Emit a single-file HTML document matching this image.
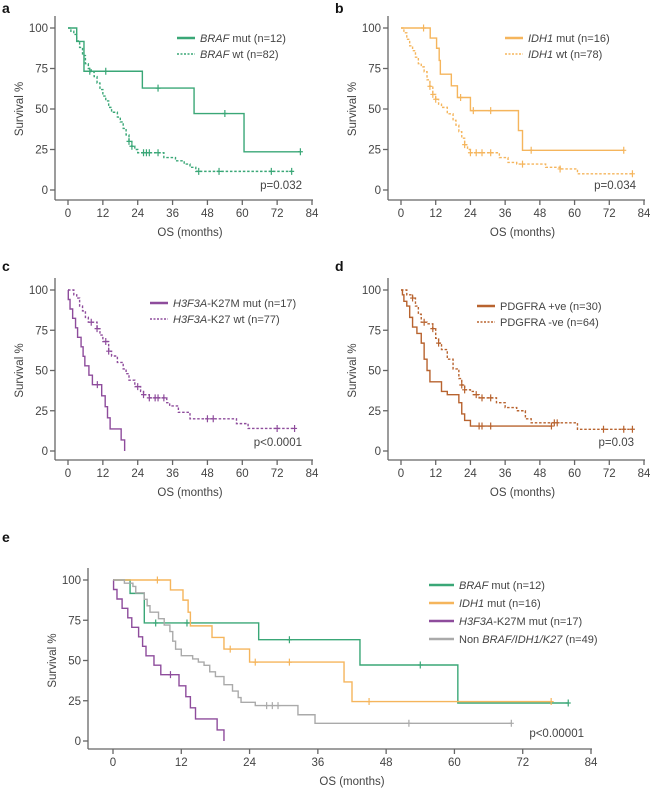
<!DOCTYPE html>
<html><head><meta charset="utf-8"><style>
body{margin:0;background:#fff}
svg{display:block;font-family:"Liberation Sans",Arial,sans-serif}
</style></head><body>
<svg id="fig" width="650" height="792" viewBox="0 0 650 792"></svg>
<script>
const xTicks=[0,12,24,36,48,60,72,84];
const yTicks=[0,25,50,75,100];
// Panel a
const aMutSteps=[[3,91.7],[5.5,73.3],[25.6,62.9],[43.4,47.2],[60.6,23.6]];
const aMutCens=[7.5,13,31,54,80];
const aWtSteps=[[1,98],[2,96],[3,92],[4,88],[5,83],[6,78],[7,75],[8,73],[9,70],[10,66],[11,62],[12,58],[13,55],[14,51],[15,48],[17,45],[18,42],[19,38],[20,34],[21,30],[22,27],[23,25],[24,23],[33,20],[37,18],[40,16],[42,14],[44,11.5]];
const aWtCens=[21,22,26,27,28,31,45,52,70,77];
// Panel b
const bMutSteps=[[10.1,93.8],[12.3,87.5],[13.2,80],[13.6,71.5],[17.4,64.3],[19.5,57.1],[24,49],[40.6,36.7],[42,24.5]];
const bMutCens=[7.8,20.6,25,31,45,77];
const bWtSteps=[[1,97],[2,93],[3,89],[4,86],[5,82],[6,78],[7,76],[8,73],[9,68],[10,64],[11,59],[12,56],[13,53],[14,51],[16,47],[18,43],[19,40],[20,36],[21,32],[22,28],[23,25],[24,23],[34,20],[37,17],[40,16],[50,14],[55,13],[61,10]];
const bWtCens=[10,11,12,22,24,26,28,31,42,55,80];
// Panel c
const cMutSteps=[[0.1,94.1],[0.7,88.2],[1.6,82.4],[2.6,76.5],[3.3,70.6],[4.5,64.7],[5.2,58.8],[5.8,52.9],[7.2,47.1],[8.4,41.2],[11.6,34.3],[12.8,27.5],[13.6,20.6],[14.5,13.7],[18.3,6.9],[19.5,0]];
const cMutCens=[10.1];
const cWtSteps=[[2,97],[3,95],[4,90],[5,87],[6,83],[7,80],[10,76],[11,72],[12,68],[14,62],[15,59],[17,55],[19,51],[20,48],[21,44],[23,40],[25,37],[26,35],[28,33],[34,30],[35,28],[38,24],[42,20],[58,17],[62,14]];
const cWtCens=[8,10,13,14,24,26,28,30,31,33,48,50,72,78];
// Panel d
const dPosSteps=[[0.5,97],[1,93],[2,90],[3,83],[4,77],[5.5,73],[7,67],[8,57],[9,50],[10,43],[14,37],[16,35],[20,30],[21,23],[22,19],[24,15.5]];
const dPosCens=[27,28,31,52];
const dNegSteps=[[2,97],[4,95],[5,90],[6,85],[7,80],[9,79],[11,76],[12,70],[13,67],[14,63],[16,57],[18,51],[20,45],[21,41],[22,38],[24,37],[25,35],[27,33],[33,30],[36,27],[40,25],[43,20],[45,17.5],[61,13.5]];
const dNegCens=[4,8,11,13,21,22,26,28,31,53,54,70,77,80];
// Panel e
const eOtherSteps=[[2,98],[3.5,96],[4,92],[5.5,88],[6,84],[6.5,80],[8,76],[9,72],[10,68],[10.5,62],[11,57],[12,53],[14,51],[15,49],[16,47],[17,43],[18,40],[19.5,35],[21,31],[22,27],[22.5,24],[25,22],[32.5,16.3],[35.5,11]];
const eOtherCens=[27,28,29,52,70];

const NS="http://www.w3.org/2000/svg";
const svg=document.getElementById('fig');
function mk(tag,attrs,parent){const e=document.createElementNS(NS,tag);for(const k in attrs)e.setAttribute(k,attrs[k]);(parent||svg).appendChild(e);return e;}
function survAt(steps,t){let v=100;for(const s of steps){if(s[0]<=t)v=s[1];}return v;}

function panel(P){
  const g=mk('g',{});
  
  
  const sx=m=>P.x0+(P.x1-P.x0)*m/84;
  const sy=v=>P.yBot-(P.yBot-P.yTop)*v/100;
  const lab=mk('text',{x:P.lx,y:P.ly,'font-size':14,'font-weight':'bold',fill:'#111'},g);lab.textContent=P.letter;
  
  
  const ax=mk('g',{stroke:'#666','stroke-width':1.3},g);
  
  
  mk('line',{x1:P.ax,y1:P.yTop-12,x2:P.ax,y2:P.axisY},ax);
  mk('line',{x1:P.ax,y1:P.axisY,x2:P.x1+1,y2:P.axisY},ax);
  for(const t of xTicks){mk('line',{x1:sx(t),y1:P.axisY,x2:sx(t),y2:P.axisY+5},ax);
    const tx=mk('text',{x:sx(t),y:P.axisY+17,'font-size':11.5,'text-anchor':'middle',fill:'#444'},g);tx.textContent=t;
    
    }
  for(const t of yTicks){mk('line',{x1:P.ax-5,y1:sy(t),x2:P.ax,y2:sy(t)},ax);
    const ty=mk('text',{x:P.ax-7,y:sy(t)+4,'font-size':11.5,'text-anchor':'end',fill:'#444'},g);ty.textContent=t;
    
    }
  const xl=mk('text',{x:(P.x0+P.x1)/2,y:P.axisY+36,'font-size':11.5,'text-anchor':'middle',fill:'#444'},g);xl.textContent='OS  (months)';
  
  
  const yy=(P.yTop+P.yBot)/2;
  const yl=mk('text',{x:P.ax-32,y:yy,'font-size':11.5,'text-anchor':'middle',fill:'#444',transform:`rotate(-90 ${P.ax-32} ${yy})`},g);yl.textContent='Survival  %';
  
  
  P.series.forEach((s,i)=>{
    let d=`M${sx(0)},${sy(100)}`;let v=100;
    for(const st of s.steps){d+=` H${sx(st[0])} V${sy(st[1])}`;v=st[1];}
    const last=Math.max(s.steps.length?s.steps[s.steps.length-1][0]:0,...s.cens);
    if(v>0)d+=` H${sx(last)}`;
    const p=mk('path',{d,fill:'none',stroke:s.color,'stroke-width':1.4,'stroke-dasharray':s.dash?'2.5,1.8':'none'},g);
    
    
    for(const c of s.cens){const cy=sy(survAt(s.steps,c));const cx=sx(c);
      const cm=mk('path',{d:`M${cx},${cy-3.5}V${cy+3.5}M${cx-2.5},${cy}H${cx+2.5}`,stroke:s.color,'stroke-width':1.2},g);
      
      }
    const ly=P.legY+i*P.legGap;
    const lg=mk('g',{},g);
    
    
    mk('line',{x1:P.legX,y1:ly,x2:P.legX+(P.legW||18),y2:ly,stroke:s.color,'stroke-width':s.dash?1.5:2.5,'stroke-dasharray':s.dash?'2,1.5':'none'},lg);
    const lt=mk('text',{x:P.legX+(P.legW||18)+5,y:ly+4,'font-size':11,fill:'#444'},lg);lt.innerHTML=s.label;
  });
  const pv=mk('text',{x:P.pX,y:P.pY,'font-size':11.5,'text-anchor':'end',fill:'#444'},g);pv.textContent=P.p;
  
  
}
const G='#3aa777',O='#f5b55c',PU='#8e4c9c',BR='#b8632f',GR='#aaaaaa';
panel({name:'panel-a',letter:'a',lx:2,ly:13,ax:55,x0:68,x1:312,yTop:28,yBot:190,axisY:200,legX:177,legY:38,legGap:16,pX:302,pY:189,p:'p=0.032',
 series:[{id:'braf-mut',steps:aMutSteps,cens:aMutCens,color:G,label:'<tspan font-style="italic">BRAF</tspan> mut (n=12)'},
 {id:'braf-wt',steps:aWtSteps,cens:aWtCens,color:G,dash:1,label:'<tspan font-style="italic">BRAF</tspan> wt (n=82)'}]});
panel({name:'panel-b',letter:'b',lx:335,ly:13,ax:388,x0:401,x1:644,yTop:28,yBot:190,axisY:200,legX:505,legY:38,legGap:16,pX:636,pY:189,p:'p=0.034',
 series:[{id:'idh1-mut',steps:bMutSteps,cens:bMutCens,color:O,label:'<tspan font-style="italic">IDH1</tspan> mut (n=16)'},
 {id:'idh1-wt',steps:bWtSteps,cens:bWtCens,color:O,dash:1,label:'<tspan font-style="italic">IDH1</tspan> wt (n=78)'}]});
panel({name:'panel-c',letter:'c',lx:2,ly:271,ax:55,x0:68,x1:312,yTop:290,yBot:451,axisY:460,legX:150,legY:303,legGap:16,pX:302,pY:446,p:'p<0.0001',
 series:[{id:'h3f3a-mut',steps:cMutSteps,cens:cMutCens,color:PU,label:'<tspan font-style="italic">H3F3A</tspan>-K27M mut (n=17)'},
 {id:'h3f3a-wt',steps:cWtSteps,cens:cWtCens,color:PU,dash:1,label:'<tspan font-style="italic">H3F3A</tspan>-K27 wt (n=77)'}]});
panel({name:'panel-d',letter:'d',lx:335,ly:271,ax:388,x0:401,x1:644,yTop:290,yBot:451,axisY:460,legX:477,legY:306,legGap:16,pX:634,pY:446,p:'p=0.03',
 series:[{id:'pdgfra-pos',steps:dPosSteps,cens:dPosCens,color:BR,label:'PDGFRA +ve (n=30)'},
 {id:'pdgfra-neg',steps:dNegSteps,cens:dNegCens,color:BR,dash:1,label:'PDGFRA -ve (n=64)'}]});
panel({name:'panel-e',letter:'e',lx:2,ly:542,ax:88,x0:113,x1:591,yTop:580,yBot:741,axisY:749,legX:429,legY:585,legGap:18,legW:25,pX:584,pY:737,p:'p<0.00001',
 series:[{id:'e-braf',steps:aMutSteps,cens:aMutCens,color:G,label:'<tspan font-style="italic">BRAF</tspan> mut (n=12)'},
 {id:'e-idh1',steps:bMutSteps,cens:bMutCens,color:O,label:'<tspan font-style="italic">IDH1</tspan> mut (n=16)'},
 {id:'e-h3f3a',steps:cMutSteps,cens:cMutCens,color:PU,label:'<tspan font-style="italic">H3F3A</tspan>-K27M mut (n=17)'},
 {id:'e-other',steps:eOtherSteps,cens:eOtherCens,color:GR,label:'Non <tspan font-style="italic">BRAF/IDH1/K27</tspan> (n=49)'}]});
</script>
</body></html>
